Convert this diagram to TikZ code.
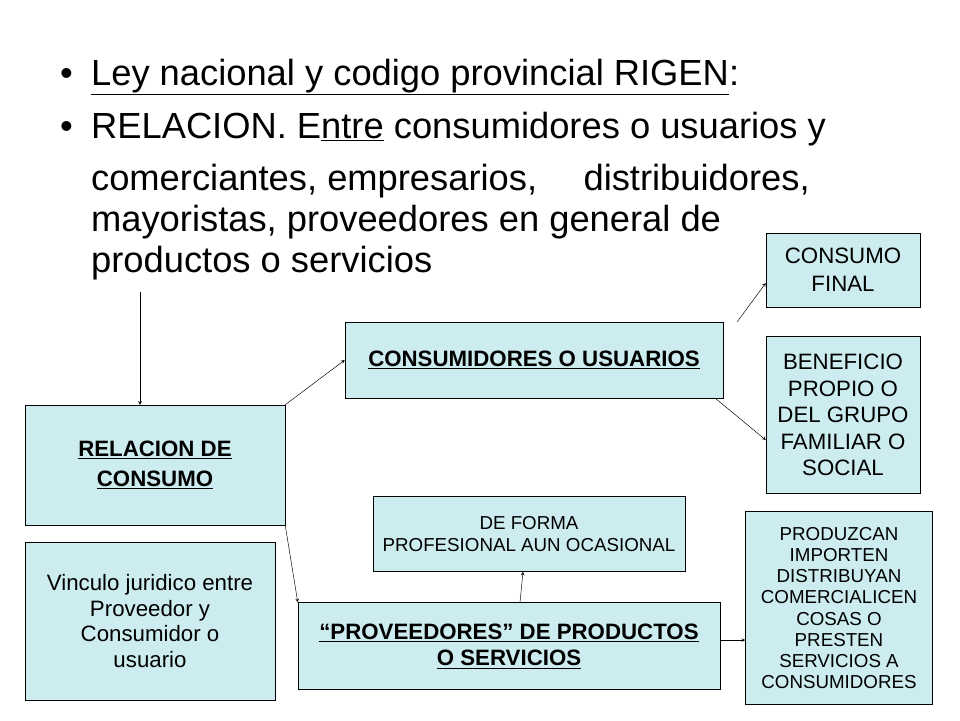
\documentclass[tikz,border=0pt]{standalone}
\usepackage{fontspec}
\setmainfont{Liberation Sans}
\usetikzlibrary{arrows, positioning}
\definecolor{boxcyan}{RGB}{204,236,239}
\begin{document}
\begin{tikzpicture}[x=0.03cm, y=-0.03cm]
		\tikzstyle{Box} = [rectangle, draw=black, fill=boxcyan, align=center, inner sep=1pt]
		\tikzstyle{arrow} = [->,>=stealth]
		\tikzstyle{Line} = [anchor=base west, font=\fontsize{31}{36}\selectfont]
		\useasboundingbox (0,0) rectangle (960,720);
		
		\node (b1) [Line] at (56,85) {•};
		\node (l1) [Line] at (87,85) {\underline{Ley nacional y codigo provincial RIGEN}:};
		\node (b2) [Line] at (56,138) {•};
		\node (l2) [Line] at (87,138) {RELACION. E\underline{ntre} consumidores o usuarios y};
		\node (l3) [Line] at (87,190) {comerciantes, empresarios, \quad distribuidores,};
		\node (l4) [Line] at (87,231) {mayoristas, proveedores en general de};
		\node (l5) [Line] at (87,272) {productos o servicios};
		
		\node (rel) [Box, minimum width=260*0.03cm, minimum height=120*0.03cm, font=\fontsize{19}{26}\selectfont\bfseries] at (155,465) {\underline{RELACION DE}\\\underline{CONSUMO}};
		\node (vin) [Box, minimum width=250*0.03cm, minimum height=158*0.03cm, font=\fontsize{19}{22}\selectfont] at (150,621) {Vinculo juridico entre\\Proveedor y\\Consumidor o\\usuario};
		\node (cons) [Box, minimum width=378*0.03cm, minimum height=76*0.03cm, font=\fontsize{19}{22}\selectfont\bfseries] at (534,360) {\underline{CONSUMIDORES O USUARIOS}};
		\node (final) [Box, minimum width=154*0.03cm, minimum height=74*0.03cm, font=\fontsize{19}{24}\selectfont] at (843,270) {CONSUMO\\FINAL};
		\node (benef) [Box, minimum width=154*0.03cm, minimum height=157*0.03cm, font=\fontsize{19}{22.5}\selectfont] at (843,415) {BENEFICIO\\PROPIO O\\DEL GRUPO\\FAMILIAR O\\SOCIAL};
		\node (forma) [Box, minimum width=312*0.03cm, minimum height=75*0.03cm, font=\fontsize{16}{19}\selectfont] at (529,534) {DE FORMA\\PROFESIONAL AUN OCASIONAL};
		\node (prov) [Box, minimum width=422*0.03cm, minimum height=87*0.03cm, font=\fontsize{19}{23}\selectfont\bfseries] at (509,646) {\underline{“PROVEEDORES” DE PRODUCTOS}\\\underline{O SERVICIOS}};
		\node (prod) [Box, minimum width=187*0.03cm, minimum height=193*0.03cm, font=\fontsize{16}{18}\selectfont] at (839,608) {PRODUZCAN\\IMPORTEN\\DISTRIBUYAN\\COMERCIALICEN\\COSAS O\\PRESTEN\\SERVICIOS A\\CONSUMIDORES};
		
		\coordinate (top) at (140,292);
		\draw [arrow] (top) -- (rel.north -| top);
		\draw [arrow] (rel.north east) -- (cons.west);
		\draw [arrow] (rel.south east) -- (prov.north west);
		\draw [arrow] ([xshift=14*0.03cm]cons.north east) -- ([yshift=-13*0.03cm]final.west);
		\draw [arrow] ([xshift=-8*0.03cm]cons.south east) -- ([yshift=-25*0.03cm]benef.west);
		\draw [arrow] ([xshift=11*0.03cm]prov.north) -- ([xshift=-6*0.03cm]forma.south);
		\draw [arrow] ([yshift=6*0.03cm]prov.east) -- ([yshift=-32*0.03cm]prod.west);
\end{tikzpicture}
\end{document}
